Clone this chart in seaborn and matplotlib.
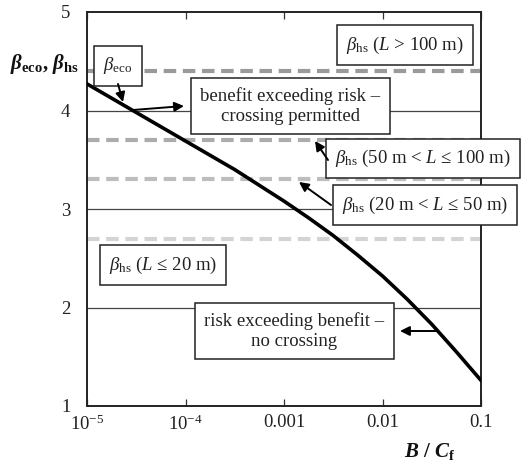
import numpy as np
import pandas as pd
import matplotlib
matplotlib.use("Agg")
import matplotlib.pyplot as plt
import seaborn as sns

# ---- data ----
log_ratio = [-5.0, -4.5, -4.0, -3.5, -3.0, -2.75, -2.5, -2.25, -2.0, -1.75, -1.5, -1.25, -1.0]
beta_eco = [4.27, 3.98, 3.69, 3.40, 3.08, 2.91, 2.73, 2.53, 2.32, 2.085, 1.83, 1.55, 1.26]
beta_hs_levels = [4.4, 3.7, 3.3, 2.7]
beta_hs_colors = ["#9a9a9a", "#acacac", "#bdbdbd", "#d4d4d4"]
x_ticks = [1e-5, 1e-4, 1e-3, 1e-2, 1e-1]
x_tick_labels = [r"$10^{-5}$", r"$10^{-4}$", "0.001", "0.01", "0.1"]
y_ticks = [1, 2, 3, 4, 5]

sns.set_theme(style="white")
plt.rcParams.update({
    "font.family": ["Liberation Serif", "DejaVu Serif"],
    "mathtext.fontset": "custom",
    "mathtext.rm": "Liberation Serif",
    "mathtext.it": "Liberation Serif:italic",
    "mathtext.bf": "Liberation Serif:bold",
    "mathtext.bfit": "Liberation Serif:italic:bold",
    "mathtext.sf": "Liberation Serif",
})

fig = plt.figure(figsize=(5.22, 4.70), dpi=100)
ax = fig.add_axes([87/522, 64/470, 394/522, 394/470])

df = pd.DataFrame({"ratio": [10.0**v for v in log_ratio], "beta": beta_eco})

# grid lines
for yv in [2, 3, 4]:
    ax.axhline(yv, color="#444444", lw=0.9, zorder=1)

for lvl, col in zip(beta_hs_levels, beta_hs_colors):
    ax.axhline(lvl, color=col, lw=3.0, dashes=(3.0, 1.6), zorder=2)

sns.lineplot(data=df, x="ratio", y="beta", ax=ax, color="black", lw=2.6, zorder=3)

ax.set_xscale("log")
ax.set_xlim(1e-5, 0.1)
ax.set_ylim(1, 5)
ax.set_xticks(x_ticks)
ax.set_xticklabels(x_tick_labels)
ax.xaxis.set_minor_locator(matplotlib.ticker.NullLocator())
ax.set_yticks(y_ticks)
ax.set_yticklabels([str(v) for v in y_ticks])
ax.tick_params(axis="x", direction="in", top=True, bottom=True, length=5, width=0.9,
               color="#333333", labelsize=13.5, pad=6, labelcolor="#222222")
ax.tick_params(axis="y", length=0, labelsize=13.5, pad=12, labelcolor="#222222")
ax.set_xlabel("")
ax.set_ylabel("")
for s in ax.spines.values():
    s.set_color("#222222")
    s.set_linewidth(1.4)


def af(px, py):
    return ((px - 87) / 394, (406 - py) / 394)


box_kw = dict(boxstyle="square,pad=0.5", fc="white", ec="#222222", lw=1.1)
text_kw = dict(transform=ax.transAxes, ha="center", va="center", fontsize=13.5,
               color="#222222", zorder=10, bbox=box_kw, clip_on=False)

ax.text(*af(118, 66), r"$\beta_{\mathrm{eco}}$", **text_kw)
ax.text(*af(290.5, 106), "benefit exceeding risk –\ncrossing permitted",
        multialignment="center", linespacing=1.2, **text_kw)
ax.text(*af(405, 45), r"$\beta_{\mathrm{hs}}$ ($L$ > 100 m)", **text_kw)
ax.text(*af(423, 158.5), r"$\beta_{\mathrm{hs}}$ (50 m < $L$ ≤ 100 m)", **text_kw)
ax.text(*af(425, 205), r"$\beta_{\mathrm{hs}}$ (20 m < $L$ ≤ 50 m)", **text_kw)
ax.text(*af(163, 265), r"$\beta_{\mathrm{hs}}$ ($L$ ≤ 20 m)", **text_kw)
ax.text(*af(294.5, 331), "risk exceeding benefit –\nno crossing",
        multialignment="center", linespacing=1.2, **text_kw)

arrow_kw = dict(arrowstyle="-|>", color="black", lw=1.4, mutation_scale=14,
                shrinkA=0, shrinkB=0)


def arrow(tail, head):
    ax.annotate("", xy=af(*head), xytext=af(*tail), xycoords="axes fraction",
                textcoords="axes fraction", arrowprops=arrow_kw, zorder=11,
                annotation_clip=False)


arrow((118, 84), (123, 102))
arrow((133, 110), (184, 106))
arrow((328, 160), (315, 141))
arrow((331, 205), (299, 182))
arrow((437, 331), (400, 331))

fig.text(10/522, 1 - 64/470, r"$\mathbfit{\beta}_{\mathbf{eco}}$, $\mathbfit{\beta}_{\mathbf{hs}}$",
         fontsize=15, ha="left", va="center", color="#111111", fontweight="bold")
fig.text(430/522, 1 - 452/470, r"$\mathbfit{B}$ / $\mathbfit{C}_{\mathbf{f}}$",
         fontsize=15, ha="center", va="center", color="#111111", fontweight="bold")

fig.savefig("out.png", dpi=100)
